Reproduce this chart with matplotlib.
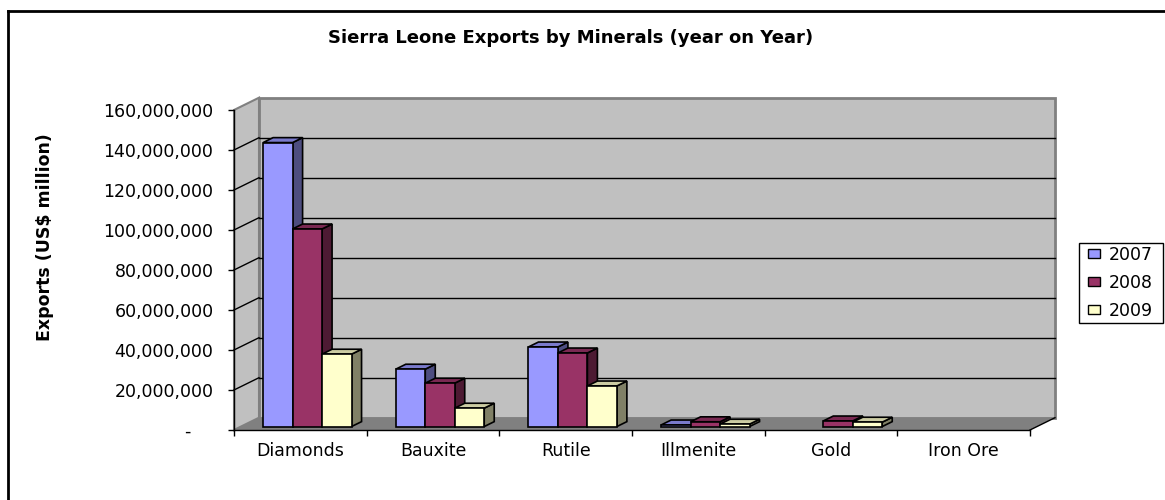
import matplotlib
matplotlib.use("Agg")
import matplotlib.pyplot as plt
from matplotlib.patches import Polygon, Rectangle, Patch
from matplotlib.lines import Line2D
from matplotlib.ticker import FixedLocator, FuncFormatter

# ---- data -------------------------------------------------------------
categories = ["Diamonds", "Bauxite", "Rutile", "Illmenite", "Gold", "Iron Ore"]
years = ["2007", "2008", "2009"]
exports_2007 = [142.0e6, 28.7e6, 39.8e6, 0.8e6, 0.0, 0.0]
exports_2008 = [98.8e6, 21.7e6, 36.8e6, 2.4e6, 2.8e6, 0.0]
exports_2009 = [36.2e6, 9.2e6, 20.3e6, 1.2e6, 2.2e6, 0.0]
series = [exports_2007, exports_2008, exports_2009]
y_ticks = [0, 20e6, 40e6, 60e6, 80e6, 100e6, 120e6, 140e6, 160e6]

# ---- styling ----------------------------------------------------------
front_colors = ["#9999FF", "#993366", "#FFFFCC"]
top_colors = ["#7A7ACC", "#7A2952", "#CCCCA3"]
side_colors = ["#4D4D80", "#4D1A33", "#808066"]
wall_color = "#C0C0C0"
floor_color = "#808080"
edge_grey = "#808080"

plt.rcParams["font.family"] = ["DejaVu Sans"]

W, H = 1165, 500
fig = plt.figure(figsize=(W / 100, H / 100), dpi=100)

# front plane of the plot box, in pixels
left_px, right_px, bottom_px, top_px = 234, 1030, 430, 110
ax = fig.add_axes([left_px / W, 1 - bottom_px / H,
                   (right_px - left_px) / W, (bottom_px - top_px) / H])
ymax = y_ticks[-1]
ncat = len(categories)
ax.set_xlim(0, ncat)
ax.set_ylim(0, ymax)
ax.patch.set_visible(False)

# oblique depth of the box (pixels -> data units)
depth_px_x, depth_px_y = 25.0, 12.3
DX = depth_px_x / (right_px - left_px) * ncat
DY = depth_px_y / (bottom_px - top_px) * ymax


def proj(x, v, d):
    """Project a point at depth fraction d (0 = front, 1 = back)."""
    return (x + d * DX, v + d * DY)


# walls and floor
ax.add_patch(Rectangle(proj(0, 0, 1), ncat, ymax, facecolor=wall_color,
                       edgecolor=edge_grey, lw=2, zorder=0.5, clip_on=False))
ax.add_patch(Polygon([proj(0, 0, 0), proj(0, 0, 1), proj(0, ymax, 1), proj(0, ymax, 0)],
                     closed=True, facecolor=wall_color, edgecolor=edge_grey,
                     lw=1.5, zorder=0.6, clip_on=False))
ax.add_patch(Polygon([proj(0, 0, 0), proj(ncat, 0, 0), proj(ncat, 0, 1), proj(0, 0, 1)],
                     closed=True, facecolor=floor_color, edgecolor="none",
                     zorder=0.7, clip_on=False))
rx = [proj(ncat, 0, 0)[0], proj(ncat, 0, 1)[0]]
ry = [proj(ncat, 0, 0)[1], proj(ncat, 0, 1)[1]]
ax.plot(rx, ry, color="black", lw=1, zorder=0.8, clip_on=False)

# gridlines on back and side walls
for v in y_ticks[1:-1]:
    bx0, by0 = proj(0, v, 1)
    bx1, by1 = proj(ncat, v, 1)
    ax.plot([bx0, bx1], [by0, by1], color="black", lw=1, zorder=0.9, clip_on=False)
    sx0, sy0 = proj(0, v, 0)
    ax.plot([sx0, bx0], [sy0, by0], color="black", lw=1, zorder=0.9, clip_on=False)

# 3D columns
gap = 0.5
group_w = 1 / (1 + gap)
bar_w = group_w / len(series)
d_front, d_back = 0.28, 0.68
k = 0
for c in range(ncat):
    for s, vals in enumerate(series):
        v = vals[c]
        if v <= 0:
            continue
        x0 = c + (1 - group_w) / 2 + s * bar_w
        x1 = x0 + bar_w
        z = 3 + k * 0.01
        side = [proj(x1, 0, d_front), proj(x1, 0, d_back),
                proj(x1, v, d_back), proj(x1, v, d_front)]
        top = [proj(x0, v, d_front), proj(x1, v, d_front),
               proj(x1, v, d_back), proj(x0, v, d_back)]
        ax.add_patch(Polygon(side, closed=True, facecolor=side_colors[s],
                             edgecolor="black", lw=1.2, zorder=z, clip_on=False))
        ax.add_patch(Polygon(top, closed=True, facecolor=top_colors[s],
                             edgecolor="black", lw=1.2, zorder=z + 0.002,
                             clip_on=False, joinstyle="miter"))
        fx, fy = proj(x0, 0, d_front)
        ax.bar(fx, v, width=bar_w, bottom=fy, align="edge",
               color=front_colors[s], edgecolor="black", lw=1.2,
               zorder=z + 0.005, clip_on=False)
        k += 1

# axes, ticks, labels
for sp in ["top", "right"]:
    ax.spines[sp].set_visible(False)
for sp in ["left", "bottom"]:
    ax.spines[sp].set_color("black")
    ax.spines[sp].set_linewidth(1)
    ax.spines[sp].set_zorder(2)

ax.yaxis.set_major_locator(FixedLocator(y_ticks))
ax.yaxis.set_major_formatter(FuncFormatter(lambda v, p: "-    " if v == 0 else f"{v:,.0f}"))
ax.tick_params(axis="y", direction="out", length=4.3, width=1, pad=10.5,
               labelsize=12.5, colors="black")

ax.xaxis.set_major_locator(FixedLocator(range(ncat + 1)))
ax.xaxis.set_minor_locator(FixedLocator([i + 0.5 for i in range(ncat)]))
ax.set_xticklabels([], minor=False)
ax.set_xticklabels(categories, minor=True)
ax.tick_params(axis="x", which="major", direction="out", length=4.3, width=1)
ax.tick_params(axis="x", which="minor", length=0, pad=9, labelsize=12.5)

fig.text(571 / W, 1 - 38 / H, "Sierra Leone Exports by Minerals (year on Year)",
         ha="center", va="center", fontsize=13, fontweight="bold")
fig.text(45 / W, 1 - 237 / H, "Exports (US$ million)", rotation=90,
         ha="center", va="center", fontsize=12.5, fontweight="bold")

# legend: white framed box with the year swatches inside
fig.add_artist(Rectangle((1079 / W, 1 - 323 / H), 84 / W, 80 / H,
                         transform=fig.transFigure, facecolor="white",
                         edgecolor="black", lw=1, zorder=5))
handles = [Patch(facecolor=front_colors[i], edgecolor="black", lw=1) for i in range(3)]
leg = fig.legend(handles, years, loc="upper left",
                 bbox_to_anchor=(1088 / W, 1 - 245.5 / H), borderaxespad=0,
                 fontsize=12.5, frameon=False, handlelength=0.67,
                 handleheight=0.45, handletextpad=0.52, borderpad=0,
                 labelspacing=0.59)
leg.set_zorder(6)

# chart area border (left and top edges)
bx = 8 / W
by = 1 - 11 / H
fig.add_artist(Line2D([bx, bx], [0, by], color="black", lw=2, transform=fig.transFigure))
fig.add_artist(Line2D([bx, 1], [by, by], color="black", lw=2, transform=fig.transFigure))

fig.savefig("out.png", dpi=100)
